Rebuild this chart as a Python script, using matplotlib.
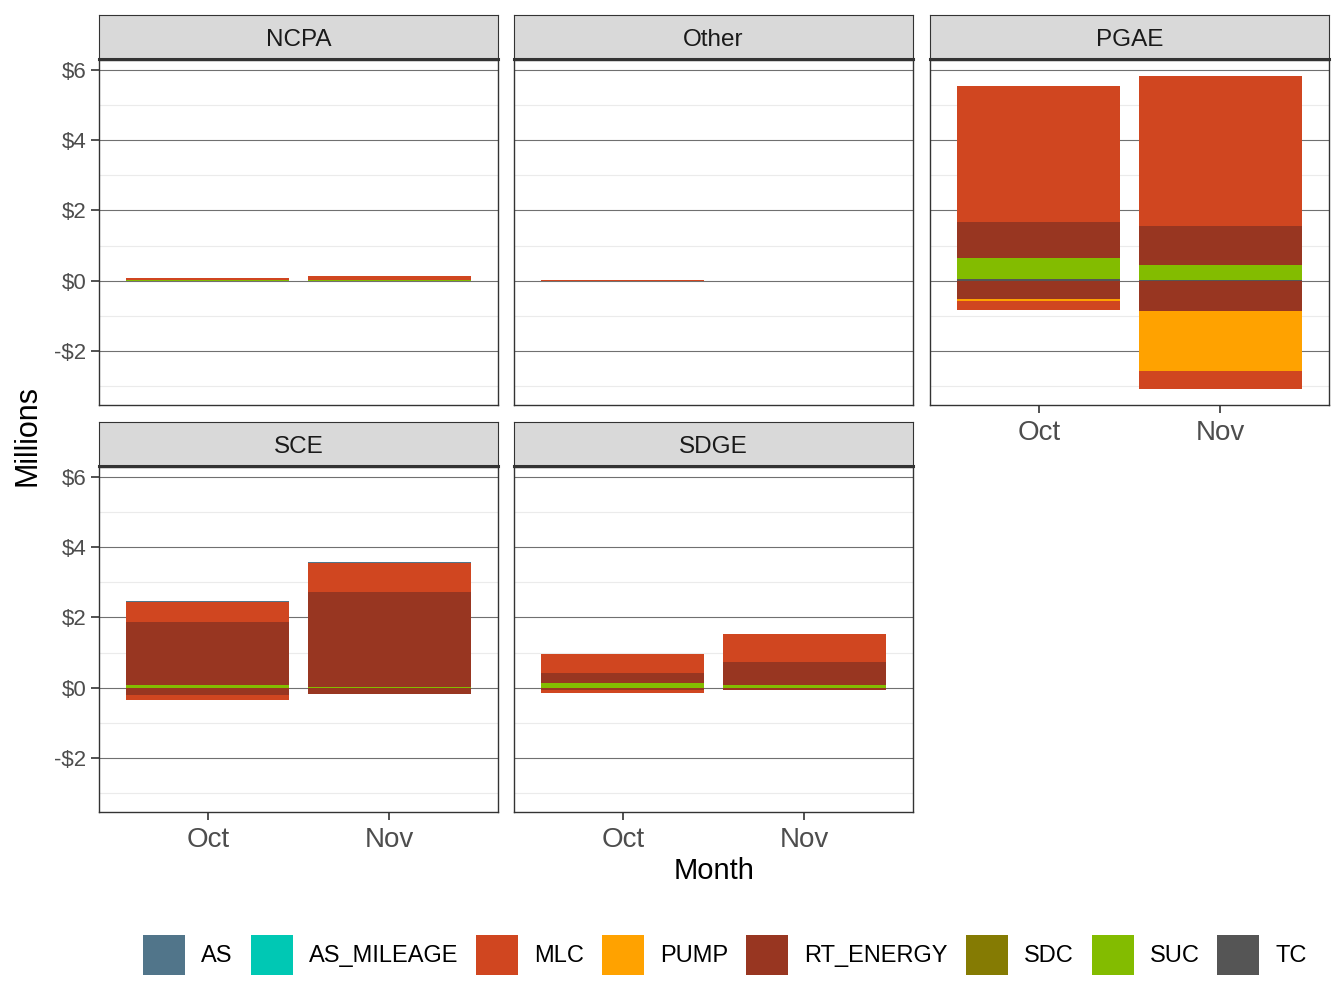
import matplotlib
matplotlib.use("Agg")
from matplotlib import pyplot as plt
from matplotlib.patches import Patch
import numpy as np

plt.rcParams['font.family'] = ['Liberation Sans', 'DejaVu Sans']

# panel / month order for every array below:
# NCPA Oct, NCPA Nov, Other Oct, Other Nov, PGAE Oct, PGAE Nov, SCE Oct, SCE Nov, SDGE Oct, SDGE Nov
utilities = ["NCPA", "Other", "PGAE", "SCE", "SDGE"]
months = ["Oct", "Nov"]
categories = ["AS", "AS_MILEAGE", "MLC", "PUMP", "RT_ENERGY", "SDC", "SUC", "TC"]
colors = ["#51758A", "#00C8B4", "#D04620", "#FFA200", "#983621", "#857B03", "#83BC00", "#555555"]

AS_pos        = [0, 0, 0, 0, 0, 0, 0.03, 0.03, 0, 0]
AS_MILEAGE_pos = [0, 0, 0, 0, 0, 0, 0, 0, 0, 0]
MLC_pos       = [0.07, 0.12, 0.02, 0, 3.88, 4.27, 0.56, 0.82, 0.54, 0.79]
MLC_neg       = [0, 0, 0, 0, -0.25, -0.51, -0.14, 0, -0.06, 0]
PUMP_neg      = [0, 0, 0, 0, -0.06, -1.73, 0, 0, 0, 0]
RT_ENERGY_pos = [0, 0, 0, 0, 1.02, 1.11, 1.80, 2.70, 0.28, 0.65]
RT_ENERGY_neg = [0, 0, 0, 0, -0.51, -0.85, -0.20, -0.17, -0.08, -0.06]
SDC_pos       = [0, 0, 0, 0, 0, 0, 0, 0, 0, 0]
SUC_pos       = [0.02, 0.02, 0, 0, 0.59, 0.42, 0.07, 0.02, 0.13, 0.09]
TC_pos        = [0, 0, 0, 0, 0.06, 0.03, 0, 0, 0, 0]

zero = [0] * 10
pos = {"AS": AS_pos, "AS_MILEAGE": AS_MILEAGE_pos, "MLC": MLC_pos, "PUMP": zero,
       "RT_ENERGY": RT_ENERGY_pos, "SDC": SDC_pos, "SUC": SUC_pos, "TC": TC_pos}
neg = {"AS": zero, "AS_MILEAGE": zero, "MLC": MLC_neg, "PUMP": PUMP_neg,
       "RT_ENERGY": RT_ENERGY_neg, "SDC": zero, "SUC": zero, "TC": zero}
col = dict(zip(categories, colors))

W, H = 1344, 1008
fig = plt.figure(figsize=(W / 100, H / 100), dpi=100)

def rect(x0, y0, x1, y1):
    return [x0 / W, 1 - y1 / H, (x1 - x0) / W, (y1 - y0) / H]

cols_x = [(99, 498), (514, 913), (930, 1329)]
rows_y = [(15, 59, 60, 405), (422, 466, 467, 812)]

# y range from data with ggplot-ish 5% expansion
tops = np.sum([pos[c] for c in categories], axis=0)
bots = np.sum([neg[c] for c in categories], axis=0)
lo, hi = bots.min(), tops.max()
pad = (hi - lo) * 0.05
ylim = (lo - pad, hi + pad)

grey30 = "#4D4D4D"
for k, ut in enumerate(utilities):
    r, c = divmod(k, 3)
    x0, x1 = cols_x[c]
    sy0, sy1, py0, py1 = rows_y[r]
    ax = fig.add_axes(rect(x0, py0, x1, py1))
    ax.set_xlim(0.4, 2.6)
    ax.set_ylim(*ylim)
    ax.set_yticks([-2, 0, 2, 4, 6])
    ax.set_yticks([-3, -1, 1, 3, 5], minor=True)
    ax.grid(which="major", axis="y", color="#707070", lw=0.8)
    ax.grid(which="minor", axis="y", color="#EBEBEB", lw=0.8)
    ax.set_axisbelow(True)
    for s in ax.spines.values():
        s.set_color("#333333")
        s.set_linewidth(1.0)
    ax.tick_params(which="minor", length=0)
    for m in range(2):
        i = k * 2 + m
        xpos = m + 1
        base_p, base_n = 0.0, 0.0
        # stack outward from zero: last factor level is nearest zero
        for cat in reversed(categories):
            v = pos[cat][i]
            if v > 0:
                ax.bar(xpos, v, bottom=base_p, width=0.9, color=col[cat], lw=0)
                base_p += v
            v = neg[cat][i]
            if v < 0:
                ax.bar(xpos, v, bottom=base_n, width=0.9, color=col[cat], lw=0)
                base_n += v
    ax.set_xticks([1, 2])
    show_x = (r == 1) or (ut == "PGAE")
    if show_x:
        ax.set_xticklabels(months, fontsize=20, color=grey30)
        ax.tick_params(axis="x", length=6, width=1.2, color="#333333", pad=5)
    else:
        ax.tick_params(axis="x", length=0, labelbottom=False)
    if c == 0:
        ax.set_yticklabels(["-$2", "$0", "$2", "$4", "$6"], fontsize=16, color=grey30)
        ax.tick_params(axis="y", length=6, width=1.2, color="#333333", pad=3)
    else:
        ax.tick_params(axis="y", length=0, labelleft=False)

    sax = fig.add_axes(rect(x0, sy0, x1, sy1))
    sax.set_facecolor("#D9D9D9")
    sax.set_xticks([])
    sax.set_yticks([])
    for s in sax.spines.values():
        s.set_color("#333333")
        s.set_linewidth(0.8)
    sax.spines["bottom"].set_linewidth(2.2)
    sax.text(0.5, 0.44, ut, ha="center", va="center", fontsize=17.5, color="#1A1A1A",
             transform=sax.transAxes)

fig.text(714 / W, 1 - 871 / H, "Month", ha="center", va="center", fontsize=21)
fig.text(27 / W, 1 - 436 / H, "Millions", ha="center", va="center", rotation=90, fontsize=22)

handles = [Patch(facecolor=col[c], edgecolor="none") for c in categories]
fig.legend(handles, categories, loc="center", bbox_to_anchor=(725 / W, 1 - 955 / H),
           ncol=8, frameon=False, fontsize=17, handlelength=1.78, handleheight=2.2,
           handletextpad=0.68, columnspacing=0.76, borderaxespad=0)

fig.savefig("out.png", dpi=100)
